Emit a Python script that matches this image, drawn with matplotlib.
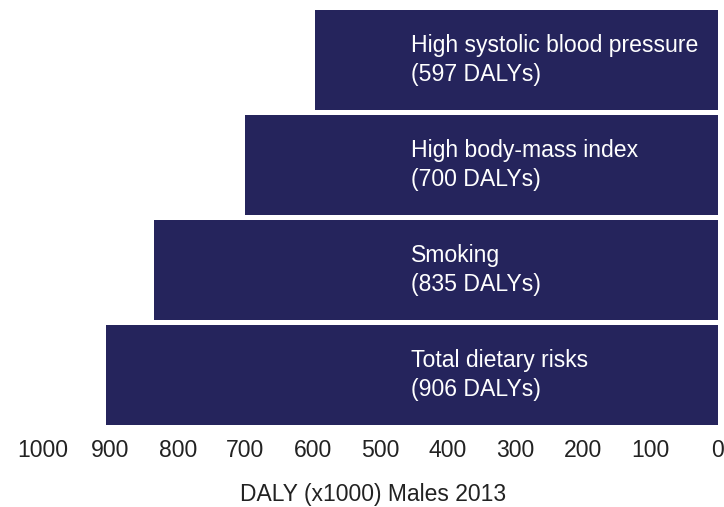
import matplotlib.pyplot as plt

risks = ["Total dietary risks", "Smoking", "High body-mass index", "High systolic blood pressure"]
dalys = [906, 835, 700, 597]
ticks = [1000, 900, 800, 700, 600, 500, 400, 300, 200, 100, 0]

bar_color = "#25245c"
plt.rcParams['font.family'] = ['Liberation Sans', 'DejaVu Sans']

fig = plt.figure(figsize=(7.24, 5.07), dpi=100)
ax = fig.add_axes([43 / 724, 1 - 425 / 507, 675 / 724, 415 / 507])

ypos = range(len(risks))
ax.barh(ypos, dalys, height=0.95, color=bar_color)

for y, name, v in zip(ypos, risks, dalys):
    ax.text(455, y, f"{name}\n({v} DALYs)", color="white", fontsize=16.6,
            va="center", ha="left", linespacing=1.3)

ax.set_xlim(1000, 0)
ax.set_ylim(-0.475, len(risks) - 0.525)
ax.set_xticks(ticks)
ax.set_xticklabels([str(t) for t in ticks], fontsize=16.6, color="#222222")
ax.tick_params(axis='x', length=0, pad=10)
ax.set_yticks([])
for s in ax.spines.values():
    s.set_visible(False)

ax.set_xlabel("DALY (x1000) Males 2013", fontsize=16.5, color="#222222", labelpad=15)
ax.xaxis.label.set_x(0.489)

fig.savefig("out.png", dpi=100)
